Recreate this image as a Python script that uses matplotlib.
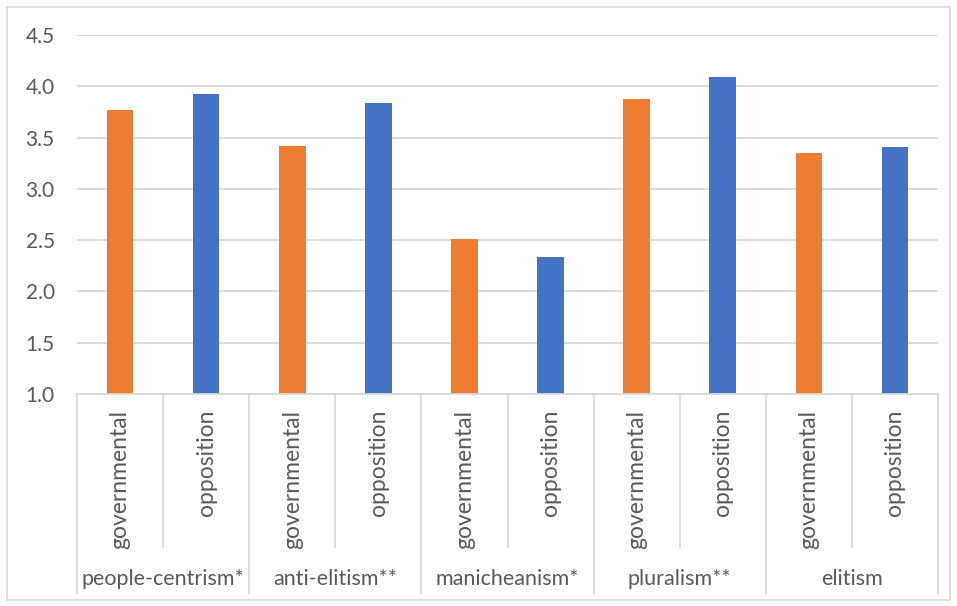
import matplotlib
matplotlib.use("Agg")
import matplotlib.pyplot as plt
from matplotlib.patches import Rectangle
from matplotlib.lines import Line2D

categories = ["people-centrism*", "anti-elitism**", "manicheanism*", "pluralism**", "elitism"]
groups = ["governmental", "opposition"]
governmental = [3.77, 3.42, 2.51, 3.88, 3.35]
opposition = [3.92, 3.84, 2.34, 4.09, 3.41]
yticks = [1.0, 1.5, 2.0, 2.5, 3.0, 3.5, 4.0, 4.5]

ORANGE = "#ED7D31"
BLUE = "#4472C4"
GRID = "#D9D9D9"
TXT = "#595959"
FONT = ["Lato", "DejaVu Sans"]
plt.rcParams['font.family'] = FONT

W, H = 957, 606
fig = plt.figure(figsize=(W / 100, H / 100), dpi=100)
fig.patch.set_facecolor("white")

# chart area border
fig.add_artist(Rectangle((6.5 / W, 1 - 600 / H), (950 - 6.5) / W, (600 - 6.5) / H,
                         transform=fig.transFigure, fill=False, edgecolor=GRID, lw=1.2))

left, right, top, bottom = 77, 938, 35, 394
ax = fig.add_axes([left / W, 1 - bottom / H, (right - left) / W, (bottom - top) / H])
ax_h = bottom - top

xs = []
vals = []
cols = []
for i in range(len(categories)):
    xs += [2 * i, 2 * i + 1]
    vals += [governmental[i], opposition[i]]
    cols += [ORANGE, BLUE]

ax.bar(xs, [v - 1.0 for v in vals], bottom=1.0, width=0.31, color=cols, zorder=3)
ax.set_xlim(-0.5, 2 * len(categories) - 0.5)
ax.set_ylim(1.0, 4.5)
ax.set_yticks(yticks)
ax.set_yticklabels([f"{t:.1f}" for t in yticks], color=TXT, fontsize=15)
ax.tick_params(axis='y', length=0, pad=16)
ax.set_xticks([])
ax.yaxis.grid(True, color=GRID, lw=1.3, zorder=0)
for s in ["top", "right", "left"]:
    ax.spines[s].set_visible(False)
ax.spines["bottom"].set_color(GRID)
ax.spines["bottom"].set_linewidth(1.3)
ax.spines["bottom"].set_zorder(4)

def yfrac(py):
    return -(py - bottom) / ax_h

trans = ax.get_xaxis_transform()
# separators
n = 2 * len(categories)
for k in range(n + 1):
    xk = k - 0.5
    yb = 593 if k % 2 == 0 else 547
    ax.add_line(Line2D([xk, xk], [0, yfrac(yb)], transform=trans, color=GRID,
                       lw=1.3, clip_on=False))

for k in range(n):
    ax.text(k, yfrac(410), groups[k % 2], rotation=90, ha="center", va="top",
            transform=trans, color=TXT, fontsize=16.5)
for i, c in enumerate(categories):
    ax.text(2 * i + 0.5, yfrac(579), c, ha="center", va="center",
            transform=trans, color=TXT, fontsize=15.5)

fig.savefig("out.png", dpi=100, facecolor="white")
